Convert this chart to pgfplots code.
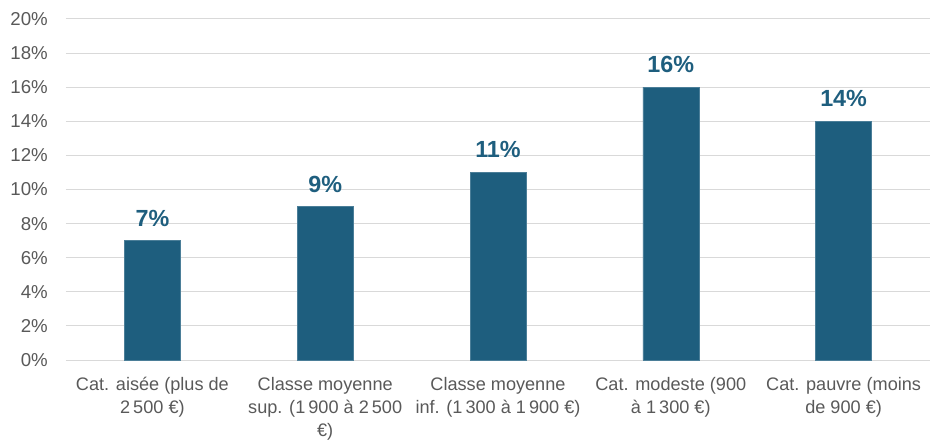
\documentclass[border=0pt]{standalone}
\usepackage{pgfplots}
\pgfplotsset{compat=1.18}
\usepackage{fontspec}
\setmainfont{Liberation Sans}
\definecolor{barblue}{RGB}{30,94,126}
\definecolor{gridgray}{RGB}{217,217,217}
\definecolor{txtgray}{RGB}{89,89,89}
\begin{document}
\begin{tikzpicture}
\begin{axis}[
  scale only axis,
  width=648pt, height=255.75pt,
  xmin=-0.5, xmax=4.5,
  ymin=0, ymax=20,
  ytick={0,2,...,20},
  xtick={0,1,2,3,4},
  xticklabels={{Cat. aisée (plus de\\2\,500 €)},{Classe moyenne\\sup. (1\,900 à 2\,500\\€)},{Classe moyenne\\inf. (1\,300 à 1\,900 €)},{Cat. modeste (900\\à 1\,300 €)},{Cat. pauvre (moins\\de 900 €)}},
  /pgf/number format/assume math mode=true,
  yticklabel={\pgfmathprintnumber{\tick}\%},
  ymajorgrids,
  grid style={draw=gridgray, line width=0.75pt},
  axis line style={draw=none},
  major tick length=0pt,
  tick style={draw=none},
  yticklabel style={font=\fontsize{14pt}{17pt}\selectfont, text=txtgray, anchor=east, inner sep=0pt, xshift=-13.5pt},
  xticklabel style={font=\fontsize{13.6pt}{17.25pt}\selectfont, text=txtgray, align=center, anchor=north, inner sep=0pt, yshift=-12.5pt},
  ybar, bar width=42pt,
  nodes near coords={\pgfmathprintnumber{\pgfplotspointmeta}\%},
  nodes near coords style={font=\bfseries\fontsize{17.5pt}{20pt}\selectfont, text=barblue, anchor=south, inner sep=0pt, yshift=10.5pt},
]
\addplot[fill=barblue, draw=barblue!80!white, line width=0.4pt] coordinates {(0,7) (1,9) (2,11) (3,16) (4,14)};
\end{axis}
\pgfresetboundingbox
\path (-49.5pt,-64.5pt) rectangle (649.5pt,270pt);
\end{tikzpicture}
\end{document}
